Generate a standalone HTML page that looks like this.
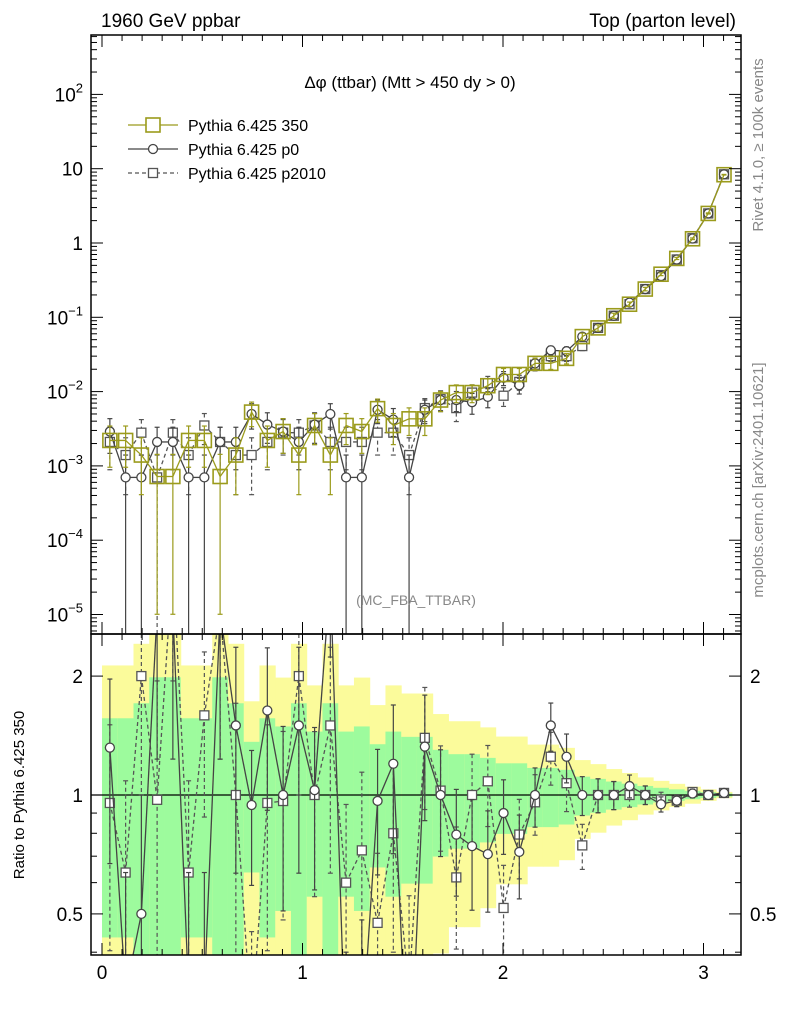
<!DOCTYPE html>
<html><head><meta charset="utf-8"><style>
html,body{margin:0;padding:0;background:#fff;width:786px;height:1024px;overflow:hidden;position:relative;}
svg{display:block;font-family:"Liberation Sans",sans-serif;}
</style></head><body>
<svg id="c" width="786" height="1024" viewBox="0 0 786 1024" style="position:absolute;left:0;top:0"></svg>
<script>
// ---- data (y values of the Δφ distribution, 40 bins from 0 to π) ----
const binCount = 40;
const ref350 = [0.0022,0.0022,0.0014,0.00072,0.00072,0.0022,0.0022,0.00072,0.0014,0.0053,0.0022,0.0029,0.0014,0.0035,0.0014,0.0035,0.0029,0.0059,0.0035,0.0043,0.0043,0.0077,0.0097,0.0097,0.012,0.017,0.017,0.024,0.024,0.028,0.055,0.072,0.105,0.15,0.24,0.38,0.62,1.14,2.5,8.3];
const p0 = [0.0029,0.0007,0.0007,0.0021,0.0021,0.0007,0.0007,0.0021,0.0021,0.005,0.0036,0.0029,0.0021,0.0036,0.005,0.0007,0.0007,0.0057,0.0042,0.0007,0.0057,0.0077,0.0077,0.0072,0.0085,0.0153,0.0122,0.024,0.036,0.035,0.055,0.072,0.105,0.158,0.24,0.36,0.6,1.15,2.5,8.4];
const p2010 = [0.0021,0.0014,0.0028,0.0007,0.0028,0.0014,0.0035,0.0021,0.0014,0.0014,0.0021,0.0028,0.0028,0.0035,0.0021,0.0021,0.0021,0.0028,0.0028,0.0014,0.006,0.0079,0.006,0.0097,0.013,0.0088,0.0135,0.023,0.03,0.03,0.041,0.072,0.105,0.15,0.24,0.37,0.6,1.16,2.5,8.4];
const xTicks = [0,1,2,3];
const yDecades = [-5,-4,-3,-2,-1,0,1,2];
const ratioTicks = [0.5,1,2];
const ratioTickLabels = ["0.5","1","2"];
const unitCount = 0.0007; // weight of a single event (for stat errors)

const S = document.getElementById('c');
const NS = 'http://www.w3.org/2000/svg';
function mk(tag, attrs, parent){const e=document.createElementNS(NS,tag);for(const k in attrs)e.setAttribute(k,attrs[k]);(parent||S).appendChild(e);return e;}

const L=91,R=741,T=35,M=634,B=955;
const X = v => 102 + v*200.5;
const Y = v => 243 - Math.log10(v)*74.3;
const YR = r => 795 - Math.log10(r)*395;
const bw = Math.PI/binCount;
const clipM = v => Math.max(T, Math.min(M, v));
const clipR = v => Math.max(M, Math.min(B, v));
const relErr = v => 1/Math.sqrt(Math.max(v/unitCount,1));

// ratio bands
const gBand = mk('g',{});  
for(let i=0;i<binCount;i++){
  const x0=X(i*bw), x1=X((i+1)*bw), e=relErr(ref350[i]);
  const yl=[1+2*e,Math.max(1-2*e,0.001)], gr=[1+e,Math.max(1-e,0.001)];
  let y1=clipR(YR(yl[0])), y2=clipR(YR(yl[1]));
  const r1=mk('rect',{x:x0,y:y1,width:x1-x0+0.5,height:y2-y1,fill:'#fbfb9b'},gBand);
   
  y1=clipR(YR(gr[0])); y2=clipR(YR(gr[1]));
  const r2=mk('rect',{x:x0,y:y1,width:x1-x0+0.5,height:y2-y1,fill:'#9dfb9d'},gBand);
   
}
const one=mk('line',{x1:L,x2:R,y1:YR(1),y2:YR(1),stroke:'#000','stroke-width':1.2});
 

const series=[
 {name:'pythia-350',data:ref350,col:'#9b9b1c',dash:null,mark:'bigsq'},
 {name:'pythia-p0',data:p0,col:'#444',dash:null,mark:'circ'},
 {name:'pythia-p2010',data:p2010,col:'#555',dash:'4,3',mark:'sq'}
];
function marker(g,type,x,y,col){
  let m;
  if(type==='bigsq') m=mk('rect',{x:x-7,y:y-7,width:14,height:14,fill:'none',stroke:col,'stroke-width':1.6},g);
  else if(type==='sq') m=mk('rect',{x:x-4.5,y:y-4.5,width:9,height:9,fill:'#fff',stroke:col,'stroke-width':1.3},g);
  else m=mk('circle',{cx:x,cy:y,r:4.5,fill:'#fff',stroke:col,'stroke-width':1.3},g);
  return m;
}
function clipSeg(a,b,lo,hi){
  let [x1,y1]=a,[x2,y2]=b;
  if((y1<lo&&y2<lo)||(y1>hi&&y2>hi))return null;
  const at=(yy)=>x1+(x2-x1)*(yy-y1)/(y2-y1);
  let p=[x1,y1],q=[x2,y2];
  if(y1<lo)p=[at(lo),lo]; else if(y1>hi)p=[at(hi),hi];
  if(y2<lo)q=[at(lo),lo]; else if(y2>hi)q=[at(hi),hi];
  return [p,q];
}
function drawSeries(s, panel){
  const g=mk('g',{});
   
  const lo=panel==='main'?T:M, hi=panel==='main'?M:B;
  const pts=[];
  for(let i=0;i<binCount;i++){
    const xc=X((i+0.5)*bw), v=s.data[i], e=relErr(v);
    let yc,yu,yd;
    if(panel==='main'){yc=Y(v);yu=Y(v*(1+e));yd=(1-e)>0.01?Y(v*(1-e)):M;}
    else{const r=v/ref350[i];yc=YR(r);yu=YR(r*(1+e));yd=(1-e)>0.01?YR(r*(1-e)):B;}
    pts.push([xc,yc]);
    const cl=panel==='main'?clipM:clipR;
    const eb=mk('line',{x1:xc,x2:xc,y1:cl(yu),y2:cl(yd),stroke:s.col,'stroke-width':1.2,'stroke-dasharray':s.dash||'none'},g);
     
    [yu,yd].forEach(yy=>{ if(yy>lo&&yy<hi) mk('line',{x1:xc-2.5,x2:xc+2.5,y1:yy,y2:yy,stroke:s.col,'stroke-width':1.2},g);});
  }
  for(let i=0;i<pts.length-1;i++){
    const c=clipSeg(pts[i],pts[i+1],lo,hi); if(!c)continue;
    const ln=mk('line',{x1:c[0][0],y1:c[0][1],x2:c[1][0],y2:c[1][1],stroke:s.col,'stroke-width':1.3,'stroke-dasharray':s.dash||'none'},g);
     
  }
  pts.forEach(p=>{ if(p[1]>=lo&&p[1]<=hi){const m=marker(g,s.mark,p[0],p[1],s.col);
     }});
}
[2,1,0].forEach(k=>{drawSeries(series[k],'main');});
[2,1].forEach(k=>{drawSeries(series[k],'ratio');});

// frames
const f1=mk('rect',{x:L,y:T,width:R-L,height:M-T,fill:'none',stroke:'#000','stroke-width':1.5});
 
const f2=mk('rect',{x:L,y:M,width:R-L,height:B-M,fill:'none',stroke:'#000','stroke-width':1.5});
 

// log ticks main
const gt=mk('g',{stroke:'#000','stroke-width':1});
 
for(let d=-6;d<=2;d++){for(let k=1;k<10;k++){const y=Y(k*Math.pow(10,d));if(y<T||y>M)continue;const len=k===1?12:6;
  mk('line',{x1:L,x2:L+len,y1:y,y2:y},gt);mk('line',{x1:R-len,x2:R,y1:y,y2:y},gt);}}
const yl={'-5':['10','−5'],'-4':['10','−4'],'-3':['10','−3'],'-2':['10','−2'],'-1':['10','−1'],'0':['1',''],'1':['10',''],'2':['10','2']};
yDecades.forEach(d=>{const y=Y(Math.pow(10,d));const t=mk('text',{x:83,y:y+7,'text-anchor':'end','font-size':19});
   
  const b=yl[d]; t.textContent=b[0]; if(b[1]){const ts=mk('tspan',{dy:-9,'font-size':13},t);ts.textContent=b[1];}});
// ratio ticks
const rt=mk('g',{stroke:'#000','stroke-width':1});
 
[0.4,0.5,0.6,0.7,0.8,0.9,1,2].forEach(r=>{const y=YR(r);if(y<M||y>B)return;const len=[0.5,1,2].includes(r)?12:6;
  mk('line',{x1:L,x2:L+len,y1:y,y2:y},rt);mk('line',{x1:R-len,x2:R,y1:y,y2:y},rt);});
ratioTicks.forEach((r,i)=>{const y=YR(r);
  const t=mk('text',{x:83,y:y+7,'text-anchor':'end','font-size':19});t.textContent=ratioTickLabels[i];
   
  const t2=mk('text',{x:750,y:y+7,'font-size':19});t2.textContent=ratioTickLabels[i];
   });
// x ticks
const xt=mk('g',{stroke:'#000','stroke-width':1});
 
for(let v=0;v<=3.2;v+=0.1){const x=X(v);if(x>R)break;const maj=Math.abs(v-Math.round(v))<0.01;const len=maj?12:6;
  mk('line',{x1:x,x2:x,y1:B,y2:B-len},xt);mk('line',{x1:x,x2:x,y1:M,y2:M-len},xt);mk('line',{x1:x,x2:x,y1:M,y2:M+len},xt);mk('line',{x1:x,x2:x,y1:T,y2:T+len},xt);}
xTicks.forEach(v=>{const t=mk('text',{x:X(v),y:979,'text-anchor':'middle','font-size':19});t.textContent=v;
   });
</script>
<svg width="786" height="1024" style="position:absolute;left:0;top:0;font-family:'Liberation Sans',sans-serif">
<text x="101" y="27" font-size="19">1960 GeV ppbar</text>
<text x="736" y="27" font-size="19" text-anchor="end">Top (parton level)</text>
<text x="410" y="88" font-size="17" text-anchor="middle">Δφ (ttbar) (Mtt &gt; 450 dy &gt; 0)</text>
<g>
<line x1="128" x2="178" y1="125" y2="125" stroke="#9b9b1c" stroke-width="1.3"/><rect x="146" y="118" width="14" height="14" fill="#fff" stroke="#9b9b1c" stroke-width="1.6"/>
<text x="188" y="131" font-size="16">Pythia 6.425 350</text>
<line x1="128" x2="178" y1="149" y2="149" stroke="#444" stroke-width="1.3"/><circle cx="153" cy="149" r="4.5" fill="#fff" stroke="#444" stroke-width="1.3"/>
<text x="188" y="155" font-size="16">Pythia 6.425 p0</text>
<line x1="128" x2="178" y1="173" y2="173" stroke="#555" stroke-width="1.3" stroke-dasharray="4,3"/><rect x="148.5" y="168.5" width="9" height="9" fill="#fff" stroke="#555" stroke-width="1.3"/>
<text x="188" y="179" font-size="16">Pythia 6.425 p2010</text>
</g>
<text x="416" y="605" font-size="14" fill="#888" text-anchor="middle">(MC_FBA_TTBAR)</text>
<text transform="translate(763,145) rotate(-90)" font-size="15" fill="#888" text-anchor="middle">Rivet 4.1.0, ≥ 100k events</text>
<text transform="translate(763,480) rotate(-90)" font-size="15" fill="#888" text-anchor="middle">mcplots.cern.ch [arXiv:2401.10621]</text>
<text transform="translate(24,795) rotate(-90)" font-size="15" text-anchor="middle">Ratio to Pythia 6.425 350</text>
</svg>
</body></html>
